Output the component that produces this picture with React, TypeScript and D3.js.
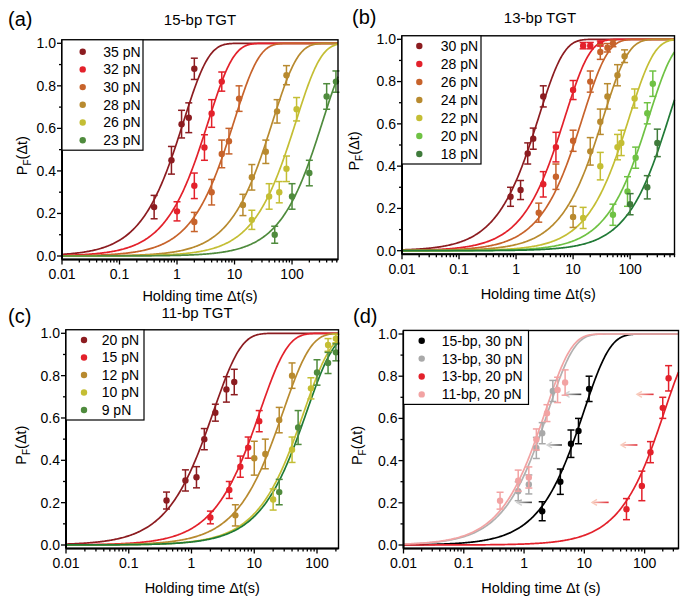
import React, { useEffect, useRef } from "react";
import * as d3 from "d3";

const FONT = "'Liberation Sans', Arial, sans-serif";

// (a) 15-bp TGT
const forcesA = ["35 pN", "32 pN", "30 pN", "28 pN", "26 pN", "23 pN"];
const tauA = [1.3, 3.5, 9.8, 46, 117, 340];
const timeA = [
  [0.4, 0.8, 1.2, 1.6, 2],
  [1, 2, 3, 4, 6],
  [2, 4, 6, 8, 12],
  [14, 20, 35, 55, 80],
  [20, 40, 60, 80, 120],
  [50, 100, 200, 400, 580],
];
const probA = [
  [0.23, 0.45, 0.62, 0.65, 0.88],
  [0.21, 0.33, 0.51, 0.67, 0.82],
  [0.16, 0.3, 0.48, 0.54, 0.74],
  [0.24, 0.37, 0.49, 0.68, 0.85],
  [0.17, 0.28, 0.3, 0.41, 0.69],
  [0.1, 0.28, 0.39, 0.75, 0.82],
];
const errA = [
  [0.055, 0.065, 0.065, 0.07, 0.05],
  [0.045, 0.06, 0.06, 0.065, 0.045],
  [0.045, 0.06, 0.065, 0.06, 0.06],
  [0.05, 0.06, 0.055, 0.055, 0.045],
  [0.045, 0.06, 0.05, 0.06, 0.055],
  [0.04, 0.06, 0.06, 0.06, 0.05],
];
const colorsA = ["#8c1c20", "#e3212b", "#c7632b", "#b88a2f", "#c4be34", "#4f8b3d"];

// (b) 13-bp TGT
const forcesB = ["30 pN", "28 pN", "26 pN", "24 pN", "22 pN", "20 pN", "18 pN"];
const tauB = [2.5, 7.2, 14.8, 34, 97, 213, 480];
const timeB = [
  [0.8, 1.2, 1.6, 2, 3],
  [3, 5, 10, 15, 20, 30],
  [2.5, 5, 10, 20, 30, 40, 50],
  [10, 20, 30, 40, 60, 80],
  [15, 30, 60, 70, 120],
  [50, 90, 125, 200, 250],
  [100, 200, 300],
];
const probB = [
  [0.255, 0.287, 0.46, 0.53, 0.73],
  [0.314, 0.49, 0.76, 0.97, 0.97, 0.98],
  [0.18, 0.35, 0.52, 0.8, 0.94, 0.96, 0.98],
  [0.16, 0.47, 0.61, 0.73, 0.83, 0.92],
  [0.155, 0.4, 0.49, 0.51, 0.72],
  [0.17, 0.28, 0.44, 0.65, 0.79],
  [0.22, 0.3, 0.51],
];
const errB = [
  [0.045, 0.045, 0.05, 0.05, 0.05],
  [0.06, 0.07, 0.045, 0.015, 0.015, 0.012],
  [0.045, 0.06, 0.05, 0.05, 0.035, 0.02, 0.015],
  [0.05, 0.065, 0.06, 0.06, 0.05, 0.03],
  [0.05, 0.065, 0.06, 0.06, 0.045],
  [0.05, 0.07, 0.05, 0.05, 0.06],
  [0.05, 0.055, 0.065],
];
const colorsB = ["#8c1c20", "#e3212b", "#c7632b", "#b88a2f", "#c4be34", "#6fc244", "#3f7b3b"];

// (c) 11-bp TGT
const forcesC = ["20 pN", "15 pN", "12 pN", "10 pN", "9 pN"];
const tauC = [2.25, 12.4, 29, 62.5, 69];
const timeC = [
  [0.4, 0.8, 1.2, 1.6, 2.4, 3.6, 4.8],
  [2, 4, 6, 8, 12],
  [5, 10, 15, 25, 40],
  [20, 40, 80, 150, 200],
  [25, 50, 100, 150, 200],
];
const probC = [
  [0.21, 0.305, 0.32, 0.5, 0.625, 0.735, 0.77],
  [0.13, 0.26, 0.37, 0.46, 0.585],
  [0.14, 0.41, 0.43, 0.59, 0.8],
  [0.215, 0.45, 0.74, 0.945, 0.975],
  [0.25, 0.555, 0.815, 0.86, 0.91],
];
const errC = [
  [0.04, 0.05, 0.05, 0.05, 0.04, 0.06, 0.06],
  [0.03, 0.04, 0.05, 0.05, 0.05],
  [0.05, 0.08, 0.07, 0.06, 0.06],
  [0.05, 0.06, 0.05, 0.03, 0.02],
  [0.06, 0.08, 0.06, 0.05, 0.04],
];
const colorsC = ["#8c1c20", "#e3212b", "#b88a2f", "#c4be34", "#4f8b3d"];

// (d) comparison, same data sets as above
const seriesD = ["15-bp, 30 pN", "13-bp, 30 pN", "13-bp, 20 pN", "11-bp, 20 pN"];
const tauD = [tauA[2], tauB[0], tauB[5], tauC[0]];
const timeD = [timeA[2], timeB[0], timeB[5], timeC[0]];
const probD = [probA[2], probB[0], probB[5], probC[0]];
const errD = [errA[2], errB[0], errB[5], errC[0]];
const colorsD = ["#000000", "#a9a9a9", "#e3212b", "#f2a3a3"];

// shift arrows in (d): level, tail time, head time
const arrowLevels = [0.714, 0.474, 0.202];
const grayTail = [8.9, 4.25, 1.35];
const grayHead = [4.7, 2.4, 0.76];
const redTail = [141, 76, 25.3];
const redHead = [74.6, 40.5, 13.4];

function drawPanel(svg, p) {
  const g = svg.append("g");
  const x = d3.scaleLog().domain([0.01, p.xMax]).range([p.left, p.right]);
  const y = d3.scaleLinear().domain([0, 1]).range([p.y0, p.y1]);
  const top = p.y1 - 3.5;
  const bottom = p.y0 + 3.5;

  // fitted curves
  const lo = -2;
  const hi = Math.log10(p.xMax);
  const ts = d3.range(0, 301).map(i => 10 ** (lo + ((hi - lo) * i) / 300));
  const line = d3.line().x(d => x(d[0])).y(d => y(d[1]));
  p.taus.forEach((tau, i) => {
    g.append("path")
      .datum(ts.map(t => [t, 1 - Math.exp(-t / tau)]))
      .attr("d", line)
      .attr("fill", "none")
      .attr("stroke", (p.curveColors || p.colors)[i])
      .attr("stroke-width", 1.7);
  });

  // arrows
  if (p.arrows) {
    p.arrows.forEach((a, k) => {
      const id = `grad-${p.key}-${k}`;
      const x1 = x(a.head);
      const x2 = x(a.tail);
      const yy = y(a.level);
      const grad = svg.append("defs").append("linearGradient")
        .attr("id", id).attr("gradientUnits", "userSpaceOnUse")
        .attr("x1", x1).attr("x2", x2).attr("y1", yy).attr("y2", yy);
      grad.append("stop").attr("offset", 0).attr("stop-color", a.c1);
      grad.append("stop").attr("offset", 1).attr("stop-color", a.c2);
      g.append("line").attr("x1", x1 + 0.5).attr("x2", x2).attr("y1", yy).attr("y2", yy)
        .attr("stroke", `url(#${id})`).attr("stroke-width", 1.6);
      g.append("path").attr("d", `M${x1 + 5},${yy - 3}L${x1},${yy}L${x1 + 5},${yy + 3}`)
        .attr("fill", "none").attr("stroke", a.c1).attr("stroke-width", 1.4);
    });
  }

  // error bars and points
  p.times.forEach((tt, i) => {
    const c = p.colors[i];
    tt.forEach((t, j) => {
      const cx = x(t);
      const v = p.probs[i][j];
      const e = p.errs[i][j];
      const ya = y(Math.min(v + e, 1.0));
      const yb = y(v - e);
      g.append("line").attr("x1", cx).attr("x2", cx).attr("y1", ya).attr("y2", yb)
        .attr("stroke", c).attr("stroke-width", 1.5);
      [ya, yb].forEach(yc => {
        g.append("line").attr("x1", cx - 3.5).attr("x2", cx + 3.5).attr("y1", yc).attr("y2", yc)
          .attr("stroke", c).attr("stroke-width", 1.5);
      });
      g.append("circle").attr("cx", cx).attr("cy", y(v)).attr("r", 3.2).attr("fill", c);
    });
  });

  // frame
  g.append("rect").attr("x", p.left).attr("y", top).attr("width", p.right - p.left)
    .attr("height", bottom - top).attr("fill", "none").attr("stroke", "#000").attr("stroke-width", 1.4);
  g.append("line").attr("x1", p.left).attr("x2", p.left).attr("y1", top).attr("y2", bottom)
    .attr("stroke", "#000").attr("stroke-width", 2);
  g.append("line").attr("x1", p.left).attr("x2", p.right).attr("y1", bottom).attr("y2", bottom)
    .attr("stroke", "#000").attr("stroke-width", 2);

  // y ticks
  d3.range(0, 11).forEach(k => {
    const v = k / 10;
    const major = k % 2 === 0;
    g.append("line").attr("x1", p.left - (major ? 5 : 3)).attr("x2", p.left)
      .attr("y1", y(v)).attr("y2", y(v)).attr("stroke", "#000").attr("stroke-width", 1.3);
    if (major) {
      g.append("text").attr("x", p.left - 6).attr("y", y(v)).attr("dy", "0.35em")
        .attr("text-anchor", "end").attr("font-size", 14).attr("font-family", FONT)
        .text(d3.format(".1f")(v));
    }
  });

  // x ticks (log)
  for (let k = -2; k <= Math.floor(hi); k++) {
    for (let m = 1; m <= 9; m++) {
      const v = m * 10 ** k;
      if (v > p.xMax * 1.0001) continue;
      g.append("line").attr("x1", x(v)).attr("x2", x(v)).attr("y1", bottom)
        .attr("y2", bottom + (m === 1 ? 5 : 3)).attr("stroke", "#000").attr("stroke-width", 1.3);
      if (m === 1) {
        g.append("text").attr("x", x(v)).attr("y", p.y0 + 23).attr("text-anchor", "middle")
          .attr("font-size", 14).attr("font-family", FONT)
          .text(k < 0 ? String(+(10 ** k).toFixed(2)) : String(10 ** k));
      }
    }
  }

  // legend
  const L = p.legend;
  const n = p.labels.length;
  g.append("rect").attr("x", p.left).attr("y", top).attr("width", L.w)
    .attr("height", L.first + (n - 1) * L.step + 10 - top)
    .attr("fill", "#fff").attr("stroke", "#000").attr("stroke-width", 1.2);
  p.labels.forEach((lab, i) => {
    const ly = L.first + i * L.step;
    g.append("circle").attr("cx", p.left + L.dot).attr("cy", ly).attr("r", 3.2).attr("fill", p.colors[i]);
    g.append("text").attr("x", p.left + L.text).attr("y", ly).attr("dy", "0.35em")
      .attr("font-size", 14).attr("font-family", FONT).text(lab);
  });

  // titles
  g.append("text").attr("x", p.tagX).attr("y", p.tagY).attr("font-size", 20)
    .attr("font-family", FONT).text(p.tag);
  if (p.title) {
    g.append("text").attr("x", p.titleX).attr("y", p.titleY).attr("text-anchor", "middle")
      .attr("font-size", 15).attr("font-family", FONT).text(p.title);
  }
  g.append("text").attr("x", (p.left + p.right) / 2).attr("y", p.xTitleY).attr("text-anchor", "middle")
    .attr("font-size", 14.5).attr("font-family", FONT).text(p.xTitle);
  const yt = g.append("text")
    .attr("transform", `translate(${p.yTitleX},${(p.y0 + p.y1) / 2 + 6}) rotate(-90)`)
    .attr("text-anchor", "middle").attr("font-size", 14.5).attr("font-family", FONT);
  yt.append("tspan").text("P");
  yt.append("tspan").attr("font-size", 10).attr("dy", 4).text("F");
  yt.append("tspan").attr("dy", -4).text("(Δt)");
}

export default function App() {
  const ref = useRef(null);

  useEffect(() => {
    const svg = d3.select(ref.current);
    svg.selectAll("*").remove();

    drawPanel(svg, {
      key: "a", tag: "(a)", tagX: 8, tagY: 26, title: "15-bp TGT", titleX: 200, titleY: 25,
      left: 62, right: 338, y0: 256, y1: 43.3, xMax: 630,
      labels: forcesA, taus: tauA, times: timeA, probs: probA, errs: errA, colors: colorsA,
      legend: { w: 81, first: 51.7, step: 17.7, dot: 20.7, text: 41.3 },
      xTitle: "Holding time Δt(s)", xTitleY: 301, yTitleX: 27,
    });

    drawPanel(svg, {
      key: "b", tag: "(b)", tagX: 352, tagY: 24, title: "13-bp TGT", titleX: 540, titleY: 23,
      left: 402, right: 674.5, y0: 250.7, y1: 39.3, xMax: 600,
      labels: forcesB, taus: tauB, times: timeB, probs: probB, errs: errB, colors: colorsB,
      curveColors: ["#8c1c20", "#e3212b", "#c7632b", "#b88a2f", "#c4be34", "#6fc244", "#217a36"],
      legend: { w: 79, first: 46, step: 18, dot: 17.3, text: 38.7 },
      xTitle: "Holding time Δt(s)", xTitleY: 299, yTitleX: 359,
    });

    drawPanel(svg, {
      key: "c", tag: "(c)", tagX: 8, tagY: 323, title: "11-bp TGT", titleX: 197, titleY: 318,
      left: 66, right: 338.5, y0: 545, y1: 333.3, xMax: 220,
      labels: forcesC, taus: tauC, times: timeC, probs: probC, errs: errC, colors: colorsC,
      curveColors: ["#8c1c20", "#e3212b", "#b88a2f", "#c4be34", "#1f7a36"],
      legend: { w: 78, first: 340, step: 17.5, dot: 18, text: 35.7 },
      xTitle: "Holding time Δt(s)", xTitleY: 593, yTitleX: 26,
    });

    drawPanel(svg, {
      key: "d", tag: "(d)", tagX: 353, tagY: 323, title: null,
      left: 403.5, right: 678.5, y0: 545, y1: 334, xMax: 365,
      labels: seriesD, taus: tauD, times: timeD, probs: probD, errs: errD, colors: colorsD,
      curveColors: ["#000000", "#b0b0b0", "#e3212b", "#f2a3a3"],
      legend: { w: 125, first: 340.7, step: 17.9, dot: 18.2, text: 38.2 },
      xTitle: "Holding time Δt (s)", xTitleY: 593, yTitleX: 362,
      arrows: [
        ...arrowLevels.map((lv, k) => ({ level: lv, tail: grayTail[k], head: grayHead[k], c1: "#d2d2d2", c2: "#3c3c3c" })),
        ...arrowLevels.map((lv, k) => ({ level: lv, tail: redTail[k], head: redHead[k], c1: "#f8cbbd", c2: "#e0303a" })),
      ],
    });
  }, []);

  return (
    <svg ref={ref} width={687} height={601}
      style={{ position: "absolute", left: 0, top: 0, background: "#fff" }} />
  );
}
